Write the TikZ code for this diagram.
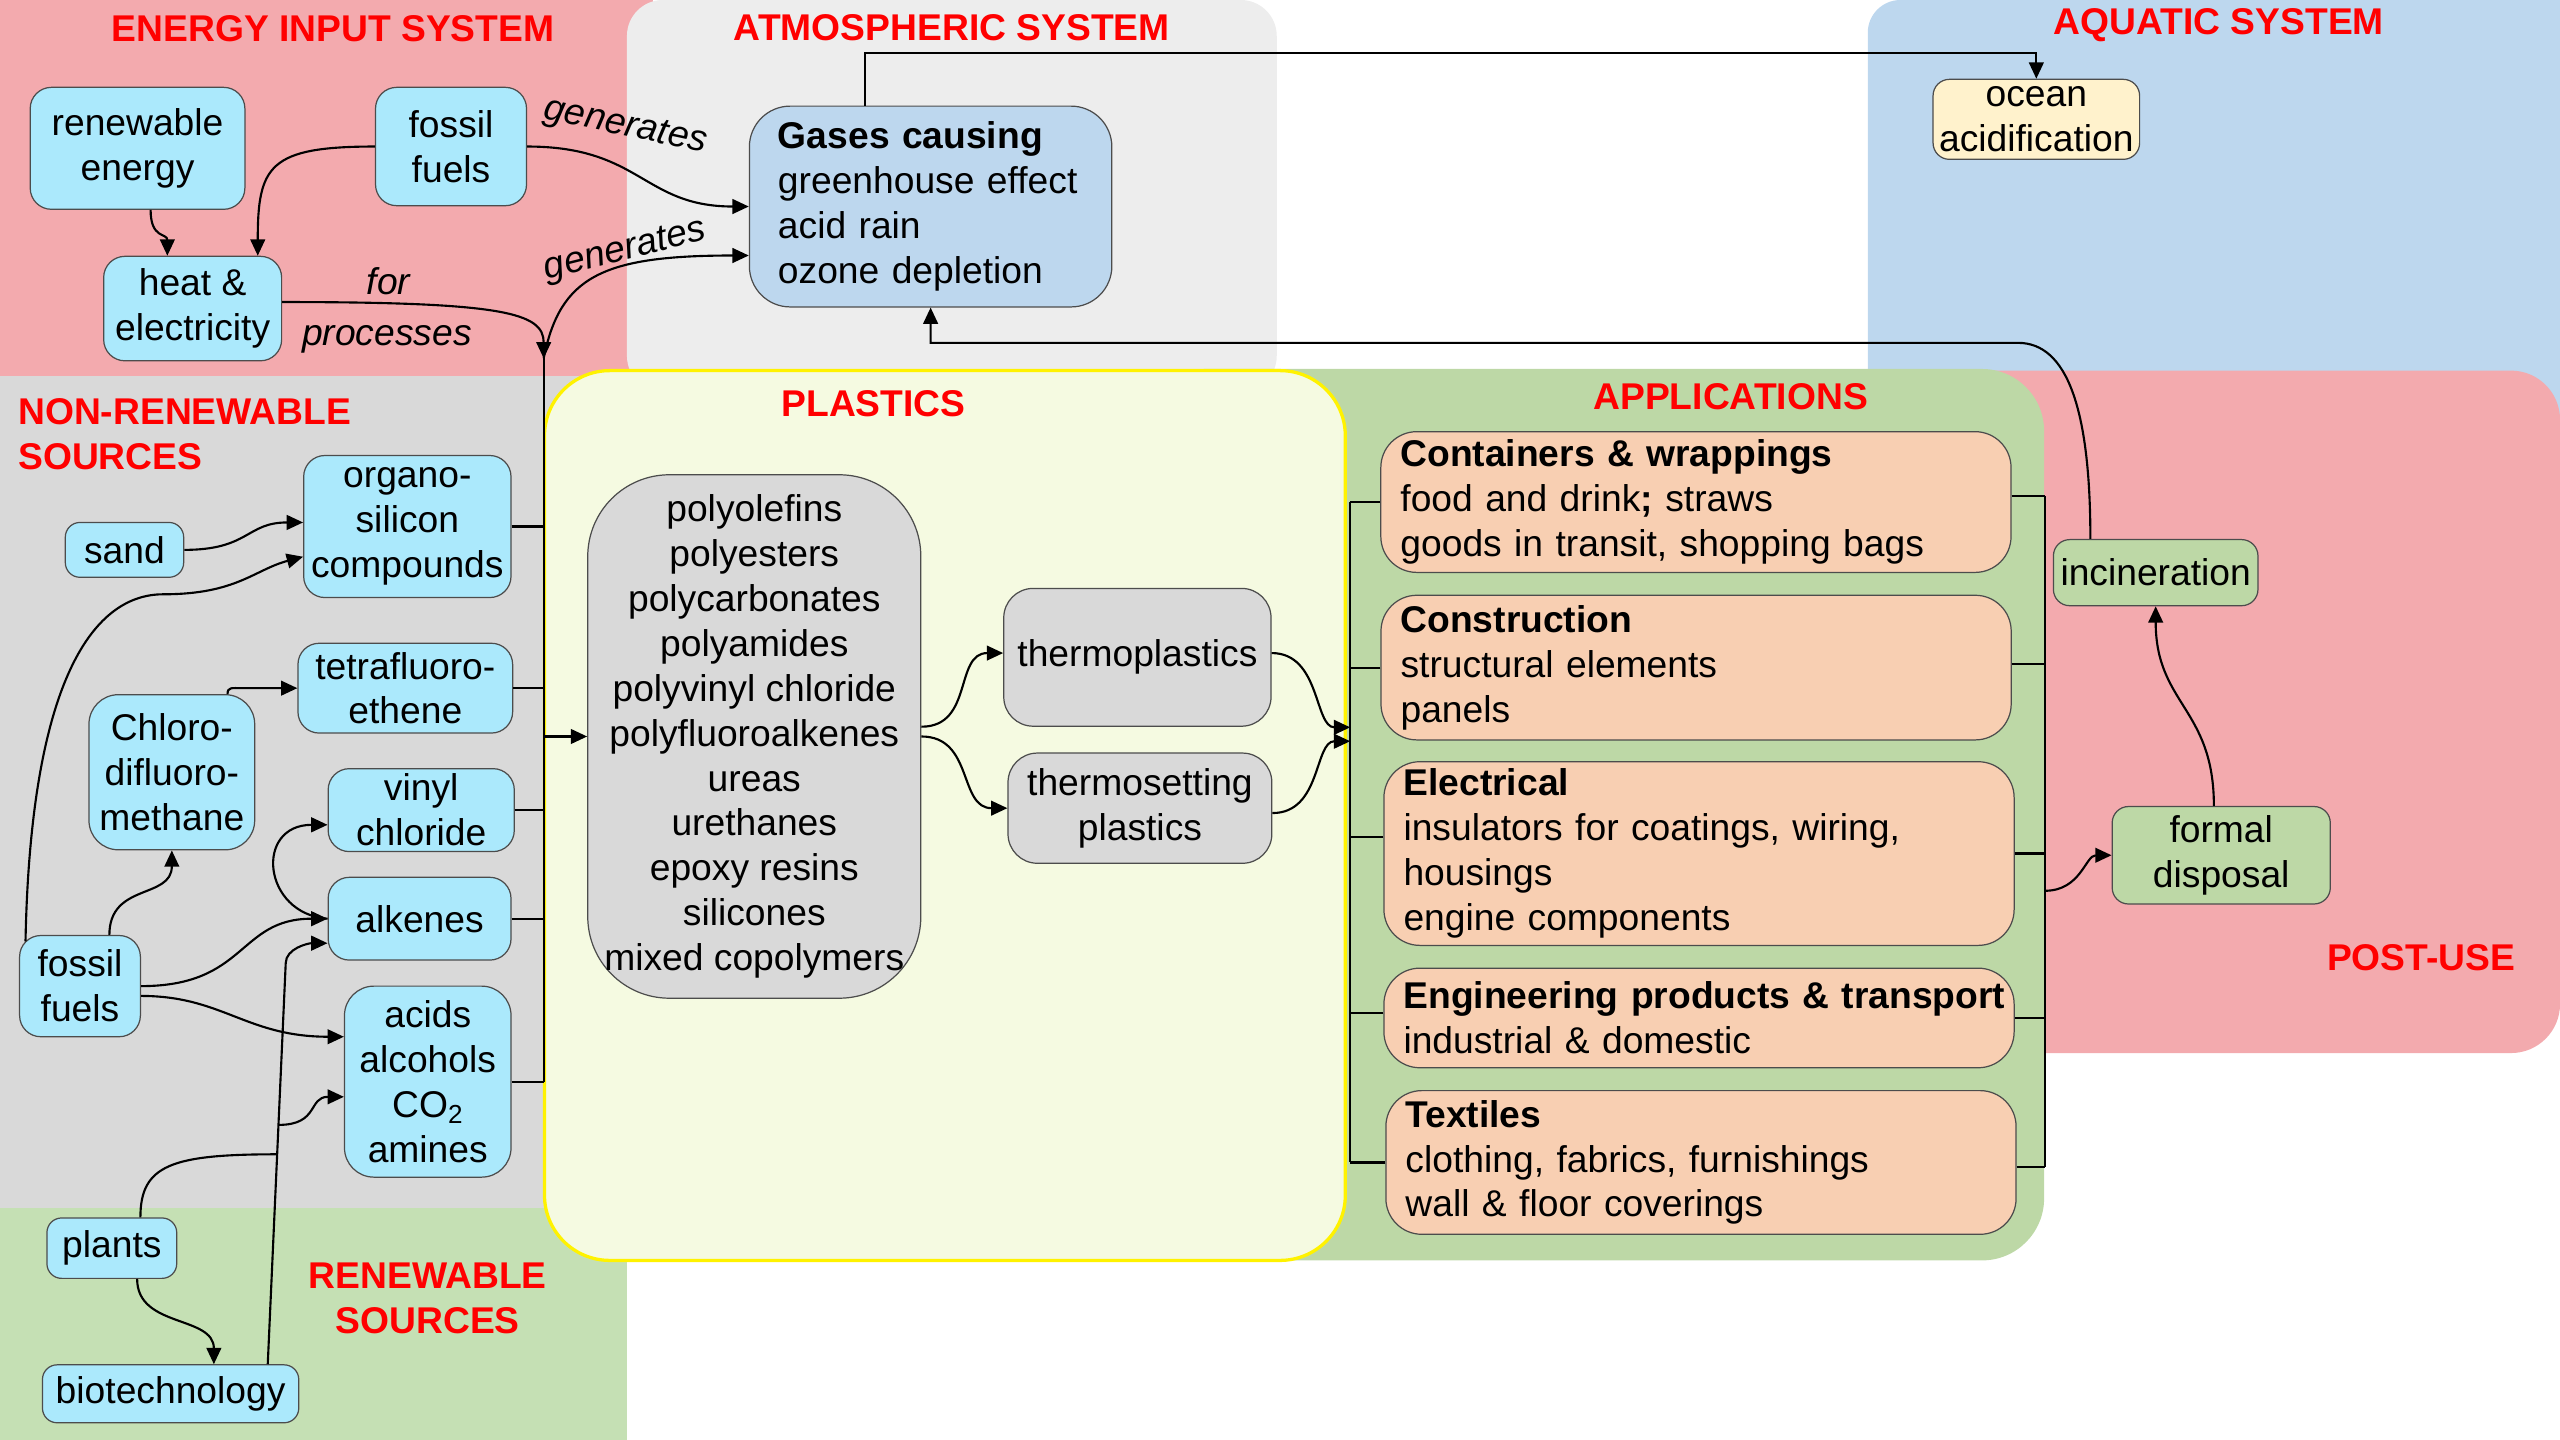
\documentclass[tikz,border=0pt]{standalone}
\usepackage{fontspec}
\setmainfont{Liberation Sans}
\usetikzlibrary{arrows.meta,calc}

\definecolor{energypink}{RGB}{243,170,174}
\definecolor{atmgray}{RGB}{237,237,237}
\definecolor{srcgray}{RGB}{217,217,217}
\definecolor{renewgreen}{RGB}{197,224,180}
\definecolor{aquablue}{RGB}{189,215,238}
\definecolor{appgreen}{RGB}{189,216,166}
\definecolor{plasticfill}{RGB}{245,250,225}
\definecolor{cyanbox}{RGB}{171,233,252}
\definecolor{peach}{RGB}{248,207,178}
\definecolor{cream}{RGB}{255,242,204}
\definecolor{polygray}{RGB}{217,217,217}
\definecolor{headred}{RGB}{255,0,0}

\begin{document}
\begin{tikzpicture}[x=1pt,y=-1pt,
  every node/.style={font=\fontsize{22.8}{27.5}\selectfont},
  boxbase/.style={draw=black!70, line width=0.75pt, inner sep=0pt, align=center},
  srcnode/.style={boxbase, fill=cyanbox, rounded corners=13pt},
  polynode/.style={boxbase, fill=polygray, rounded corners=18pt},
  greennode/.style={boxbase, fill=appgreen, rounded corners=10pt},
  appnode/.style={draw=black!70, line width=0.75pt, fill=peach, rounded corners=22pt,
    inner xsep=12pt, inner ysep=0pt, text width=362pt, align=left},
  headtext/.style={text=headred, inner sep=0pt,
    font=\fontsize{22.8}{27.5}\selectfont\bfseries},
  lbltext/.style={inner sep=0pt, font=\fontsize{22.8}{27.5}\selectfont\itshape},
  conn/.style={draw=black, line width=1.3pt},
  arr/.style={conn, -{Triangle[length=10pt,width=9pt]}}
]
\useasboundingbox (0,0) rectangle (1568,882);

% ---------- background zones ----------
\fill[energypink] (0,0) rectangle (400,230);
\fill[atmgray, rounded corners=22pt] (384,0) rectangle (782,240);
\fill[srcgray] (0,230) rectangle (384,740);
\fill[renewgreen] (0,740) rectangle (384,882);
\fill[aquablue, rounded corners=20pt] (1144,0) rectangle (1600,260);
\fill[energypink, rounded corners=30pt] (1150,227) rectangle (1568,645);
\fill[appgreen, rounded corners=38pt] (700,226) rectangle (1252,772);
\filldraw[fill=plasticfill, draw=yellow, line width=2pt, rounded corners=40pt]
  (333.5,227) rectangle (824,772);

% ---------- zone titles ----------
\node[headtext] (hEnergy) at (204,17.6) {ENERGY INPUT SYSTEM};
\node[headtext] (hAtmo) at (583,17) {ATMOSPHERIC SYSTEM};
\node[headtext] (hAqua) at (1359,15.5) {AQUATIC SYSTEM};
\node[headtext, anchor=west, align=left] (hNonRen) at (11,266) {NON-RENEWABLE\\SOURCES};
\node[headtext, align=center] (hRen) at (262,795.5) {RENEWABLE\\SOURCES};
\node[headtext] (hPlast) at (535,247.5) {PLASTICS};
\node[headtext] (hApp) at (1060,243) {APPLICATIONS};
\node[headtext] (hPost) at (1483,586.5) {POST-USE};

% ---------- energy input ----------
\node[srcnode, minimum width=131.5pt, minimum height=74.7pt] (renew) at (84.25,90.85) {renewable\\energy};
\node[srcnode, minimum width=92.5pt, minimum height=72.5pt] (fossilT) at (276.25,89.75) {fossil\\fuels};
\node[srcnode, minimum width=109pt, minimum height=64pt] (heat) at (118,189) {heat \&\\electricity};

% ---------- atmosphere and water ----------
\node[boxbase, fill=aquablue, rounded corners=25pt, minimum width=222pt, minimum height=123pt,
  text width=187pt, inner xsep=17.5pt, align=left] (gases) at (570,126.5)
  {\textbf{Gases causing}\\greenhouse effect\\acid rain\\ozone depletion};
\node[boxbase, fill=cream, rounded corners=10pt, minimum width=126.5pt, minimum height=49pt] (ocean)
  at (1247.25,73.1) {ocean\\acidification};

% ---------- raw materials ----------
\node[srcnode, minimum width=72.5pt, minimum height=33.6pt, rounded corners=9pt] (sand) at (76.25,336.8) {sand};
\node[srcnode, minimum width=127pt, minimum height=87pt] (organo) at (249.5,322.5) {organo-\\silicon\\compounds};
\node[srcnode, minimum width=131.5pt, minimum height=55pt] (tetra) at (248.25,421.5) {tetrafluoro-\\ethene};
\node[srcnode, minimum width=101.5pt, minimum height=95pt, rounded corners=18pt] (chloro) at (105.25,473) {Chloro-\\difluoro-\\methane};
\node[srcnode, minimum width=114pt, minimum height=50.8pt] (vinyl) at (258,496.2) {vinyl\\chloride};
\node[srcnode, minimum width=112pt, minimum height=50.7pt] (alkenes) at (257,562.7) {alkenes};
\node[srcnode, minimum width=74pt, minimum height=62pt] (fossilB) at (49,604) {fossil\\fuels};
\node[srcnode, minimum width=102pt, minimum height=117pt, rounded corners=18pt] (acids) at (262,662.5)
  {acids\\alcohols\\CO\textsubscript{2}\\amines};
\node[srcnode, minimum width=79.5pt, minimum height=37pt, rounded corners=9pt] (plants) at (68.5,764.5) {plants};
\node[srcnode, minimum width=157pt, minimum height=35.5pt, rounded corners=9pt] (biotech) at (104.5,853.7) {biotechnology};

% ---------- plastics ----------
\node[polynode, rounded corners=50pt, minimum width=204pt, minimum height=320.6pt] (polymers) at (462,451.1)
  {polyolefins\\polyesters\\polycarbonates\\polyamides\\polyvinyl chloride\\polyfluoroalkenes\\ureas\\urethanes\\epoxy resins\\silicones\\mixed copolymers};
\node[polynode, minimum width=163.7pt, minimum height=84.4pt] (thermoP) at (696.65,402.6) {thermoplastics};
\node[polynode, minimum width=161.6pt, minimum height=67.5pt] (thermoS) at (698.2,495) {thermosetting\\plastics};

% ---------- applications ----------
\node[appnode, minimum height=86.2pt] (cont) at (1038.75,307.5)
  {\textbf{Containers \& wrappings}\\food and drink\textbf{;} straws\\goods in transit, shopping bags};
\node[appnode, minimum height=88.6pt] (constr) at (1038.85,408.9)
  {\textbf{Construction}\\structural elements\\panels};
\node[appnode, minimum height=112.5pt] (elec) at (1040.65,522.8)
  {\textbf{Electrical}\\insulators for coatings, wiring,\\housings\\engine components};
\node[appnode, minimum height=61pt] (engin) at (1040.65,623.5)
  {\textbf{\mbox{Engineering products \& transport}}\\industrial \& domestic};
\node[appnode, minimum height=88pt] (textil) at (1041.85,712)
  {\textbf{Textiles}\\clothing, fabrics, furnishings\\wall \& floor coverings};

% ---------- post-use ----------
\node[greennode, minimum width=125.3pt, minimum height=40.5pt] (incin) at (1320.35,350.75) {incineration};
\node[greennode, minimum width=133.6pt, minimum height=59.7pt] (formal) at (1360.5,523.85) {formal\\disposal};

% ---------- connector labels ----------
\node[lbltext, rotate=-12] (lGenA) at (383,78) {generates};
\node[lbltext, rotate=14] (lGenB) at (383,154) {generates};
\node[lbltext] (lFor) at (238,172) {for};
\node[lbltext] (lProc) at (237,208) {processes};

% ---------- junction points ----------
\coordinate (jtop) at (333,219.5);
\coordinate (xL) at (827,0);
\coordinate (xR) at (1252.5,0);
\coordinate (busIn1) at (827,445.5);
\coordinate (busIn2) at (827,454);
\coordinate (busROut) at (1252.5,545.6);
\coordinate (incBend) at (1236,210);
\coordinate (oceanLine) at (1247.25,32.5);
\coordinate (fosBend) at (100,364);
\coordinate (chHook) at (148,421.5);
\coordinate (bioBend) at (175,590);
\coordinate (jPlant) at (169.8,707);
\coordinate (jAcid) at (170.6,689);

% ---------- energy connectors ----------
\draw[arr] ([xshift=8pt]renew.south) .. controls +(0,18) and +(0,-14) .. ([xshift=-15.5pt]heat.north);
\draw[arr] (fossilT.west) .. controls +(-65,0) and +(0,-55) .. ([xshift=-15pt]heat.north east);
\draw[arr] (fossilT.east) .. controls +(70,0) and +(-65,0) .. (gases.west);
\draw[arr] ([yshift=4pt]heat.east) .. controls +(135,0) and +(0,-28) .. (jtop);
\draw[arr] (jtop) .. controls +(10,-50) and +(-90,0) .. ([yshift=-30pt]gases.west);
\draw[arr] ([xshift=-40pt]gases.north) |- (oceanLine) -- (ocean.north);

% ---------- source bus into plastics ----------
\draw[conn] (jtop) -- (acids.east -| jtop);
\draw[conn] (organo.east) -- (organo.east -| jtop);
\draw[conn] (tetra.east) -- (tetra.east -| jtop);
\draw[conn] (vinyl.east) -- (vinyl.east -| jtop);
\draw[conn] (alkenes.east) -- (alkenes.east -| jtop);
\draw[conn] (acids.east) -- (acids.east -| jtop);
\draw[arr] (polymers.west -| jtop) -- (polymers.west);

% ---------- raw material connectors ----------
\draw[arr] (sand.east) .. controls +(40,0) and +(-35,0) .. ([yshift=2.5pt]organo.west);
\draw[arr] ([xshift=4pt,yshift=-4pt]fossilB.north west) .. controls +(3,-155) and +(-45,0) .. (fosBend)
  .. controls +(45,0) and +(-30,8) .. ([yshift=-18.5pt]organo.west);
\draw[arr] ([xshift=-17pt]chloro.north east) .. controls +(0,-4.5) and +(-6,0) .. (chHook) -- (tetra.west);
\draw[arr] ([xshift=18pt]fossilB.north) .. controls +(0,-32) and +(0,30) .. (chloro.south);
\draw[arr] (fossilB.east) .. controls +(65,0) and +(-55,0) .. (alkenes.west);
\draw[arr] (alkenes.west) .. controls +(-40,-3) and +(-45,0) .. ([yshift=-9pt]vinyl.west);
\draw[arr] ([yshift=-6pt]fossilB.east) .. controls +(50,0) and +(-60,0) .. ([yshift=27.5pt]acids.west);
\draw[arr] ([xshift=59.5pt]biotech.north) -- (bioBend) .. controls +(0,-9) and +(-12,0) .. ([yshift=-15pt]alkenes.west);
\draw[conn] ([xshift=17.5pt]plants.north) .. controls +(0,-32) and +(-65,0) .. (jPlant);
\draw[arr] (jAcid) .. controls +(25,0) and +(-22,0) .. ([yshift=-9.3pt]acids.west);
\draw[arr] ([xshift=15.5pt]plants.south) .. controls +(0,30) and +(0,-30) .. ([xshift=26.5pt]biotech.north);

% ---------- plastics connectors ----------
\draw[arr] ([yshift=6pt]polymers.east) .. controls +(32,0) and +(-30,0) .. ([yshift=2.6pt]thermoP.west);
\draw[arr] (polymers.east) .. controls +(32,0) and +(-30,0) .. (thermoS.west);
\draw[arr] ([yshift=2.6pt]thermoP.east) .. controls +(30,0) and +(-22,0) .. (busIn1);
\draw[arr] ([yshift=-3pt]thermoS.east) .. controls +(30,0) and +(-22,0) .. (busIn2);

% ---------- application buses ----------
\draw[conn] (cont.west -| xL) -- (textil.west -| xL);
\draw[conn] (cont.west) -- (cont.west -| xL);
\draw[conn] (constr.west) -- (constr.west -| xL);
\draw[conn] ([yshift=10pt]elec.west) -- ([yshift=10pt]elec.west -| xL);
\draw[conn] ([yshift=3pt]engin.west) -- ([yshift=3pt]engin.west -| xL);
\draw[conn] (textil.west) -- (textil.west -| xL);

\draw[conn] ([yshift=3.7pt]cont.east -| xR) -- ([yshift=-3pt]textil.east -| xR);
\draw[conn] ([yshift=3.7pt]cont.east) -- ([yshift=3.7pt]cont.east -| xR);
\draw[conn] ([yshift=2pt]constr.east) -- ([yshift=2pt]constr.east -| xR);
\draw[conn] (elec.east) -- (elec.east -| xR);
\draw[conn] (engin.east) -- (engin.east -| xR);
\draw[conn] ([yshift=-3pt]textil.east) -- ([yshift=-3pt]textil.east -| xR);

% ---------- post-use connectors ----------
\draw[arr] (busROut) .. controls +(22,0) and +(-16,0) .. (formal.west);
\draw[arr] ([xshift=-4.5pt]formal.north) .. controls +(0,-60) and +(0,60) .. (incin.south);
\draw[arr] ([xshift=-40pt]incin.north) .. controls +(0,-80) and +(30,0) .. (incBend)
  -- (incBend -| gases.south) -- (gases.south);
\end{tikzpicture}
\end{document}
